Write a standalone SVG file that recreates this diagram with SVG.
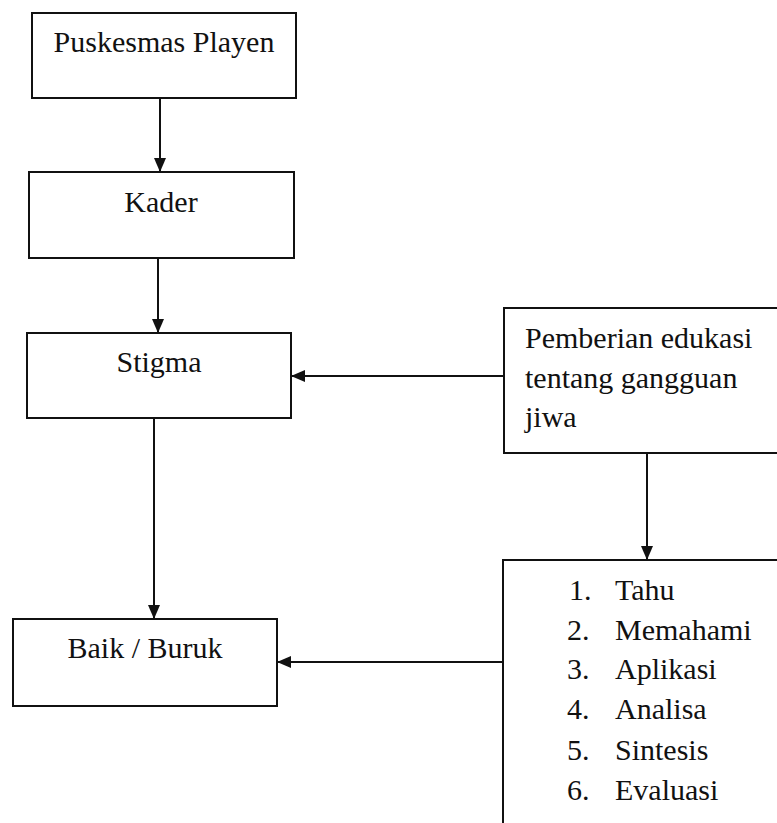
<svg xmlns="http://www.w3.org/2000/svg" width="777" height="823" viewBox="0 0 777 823">
<style>
.box{fill:#fff;stroke:#111;stroke-width:2}
.t{font-family:"Liberation Serif","Times New Roman",serif;font-size:30px;fill:#111}
.c{text-anchor:middle}
.ln{stroke:#111;stroke-width:2;fill:none}
</style>
<defs>
<marker id="ah" markerWidth="14" markerHeight="12" refX="14" refY="6" orient="auto" markerUnits="userSpaceOnUse">
<path d="M0,0 L14,6 L0,12 Z" fill="#111"/>
</marker>
</defs>
<rect width="777" height="823" fill="#fff"/>
<g id="connectors">
<line class="ln" x1="160" y1="98" x2="160" y2="172" marker-end="url(#ah)"/>
<line class="ln" x1="158" y1="258" x2="158" y2="333" marker-end="url(#ah)"/>
<line class="ln" x1="504" y1="376" x2="291" y2="376" marker-end="url(#ah)"/>
<line class="ln" x1="154" y1="418" x2="154" y2="619" marker-end="url(#ah)"/>
<line class="ln" x1="647" y1="453" x2="647" y2="560" marker-end="url(#ah)"/>
<line class="ln" x1="503" y1="662" x2="277" y2="662" marker-end="url(#ah)"/>
</g>
<g id="puskesmas">
<rect class="box" x="32" y="13" width="264" height="85"/>
<text class="t c" x="164" y="52">Puskesmas Playen</text>
</g>
<g id="kader">
<rect class="box" x="29" y="172" width="265" height="86"/>
<text class="t c" x="161" y="212">Kader</text>
</g>
<g id="stigma">
<rect class="box" x="27" y="333" width="264" height="85"/>
<text class="t c" x="159" y="372">Stigma</text>
</g>
<g id="baik">
<rect class="box" x="13" y="619" width="264" height="87"/>
<text class="t c" x="145" y="658">Baik / Buruk</text>
</g>
<g id="pemberian">
<rect class="box" x="504" y="308" width="290" height="145"/>
<text class="t" x="525" y="348">Pemberian edukasi</text>
<text class="t" x="525" y="388">tentang gangguan</text>
<text class="t" x="525" y="427">jiwa</text>
</g>
<g id="tingkat">
<rect class="box" x="503" y="560" width="290" height="290"/>
<text class="t" x="569" y="600">1.</text><text class="t" x="615" y="600">Tahu</text>
<text class="t" x="567" y="640">2.</text><text class="t" x="615" y="640">Memahami</text>
<text class="t" x="567" y="679">3.</text><text class="t" x="615" y="679">Aplikasi</text>
<text class="t" x="567" y="719">4.</text><text class="t" x="615" y="719">Analisa</text>
<text class="t" x="567" y="760">5.</text><text class="t" x="615" y="760">Sintesis</text>
<text class="t" x="567" y="800">6.</text><text class="t" x="615" y="800">Evaluasi</text>
</g>
</svg>
